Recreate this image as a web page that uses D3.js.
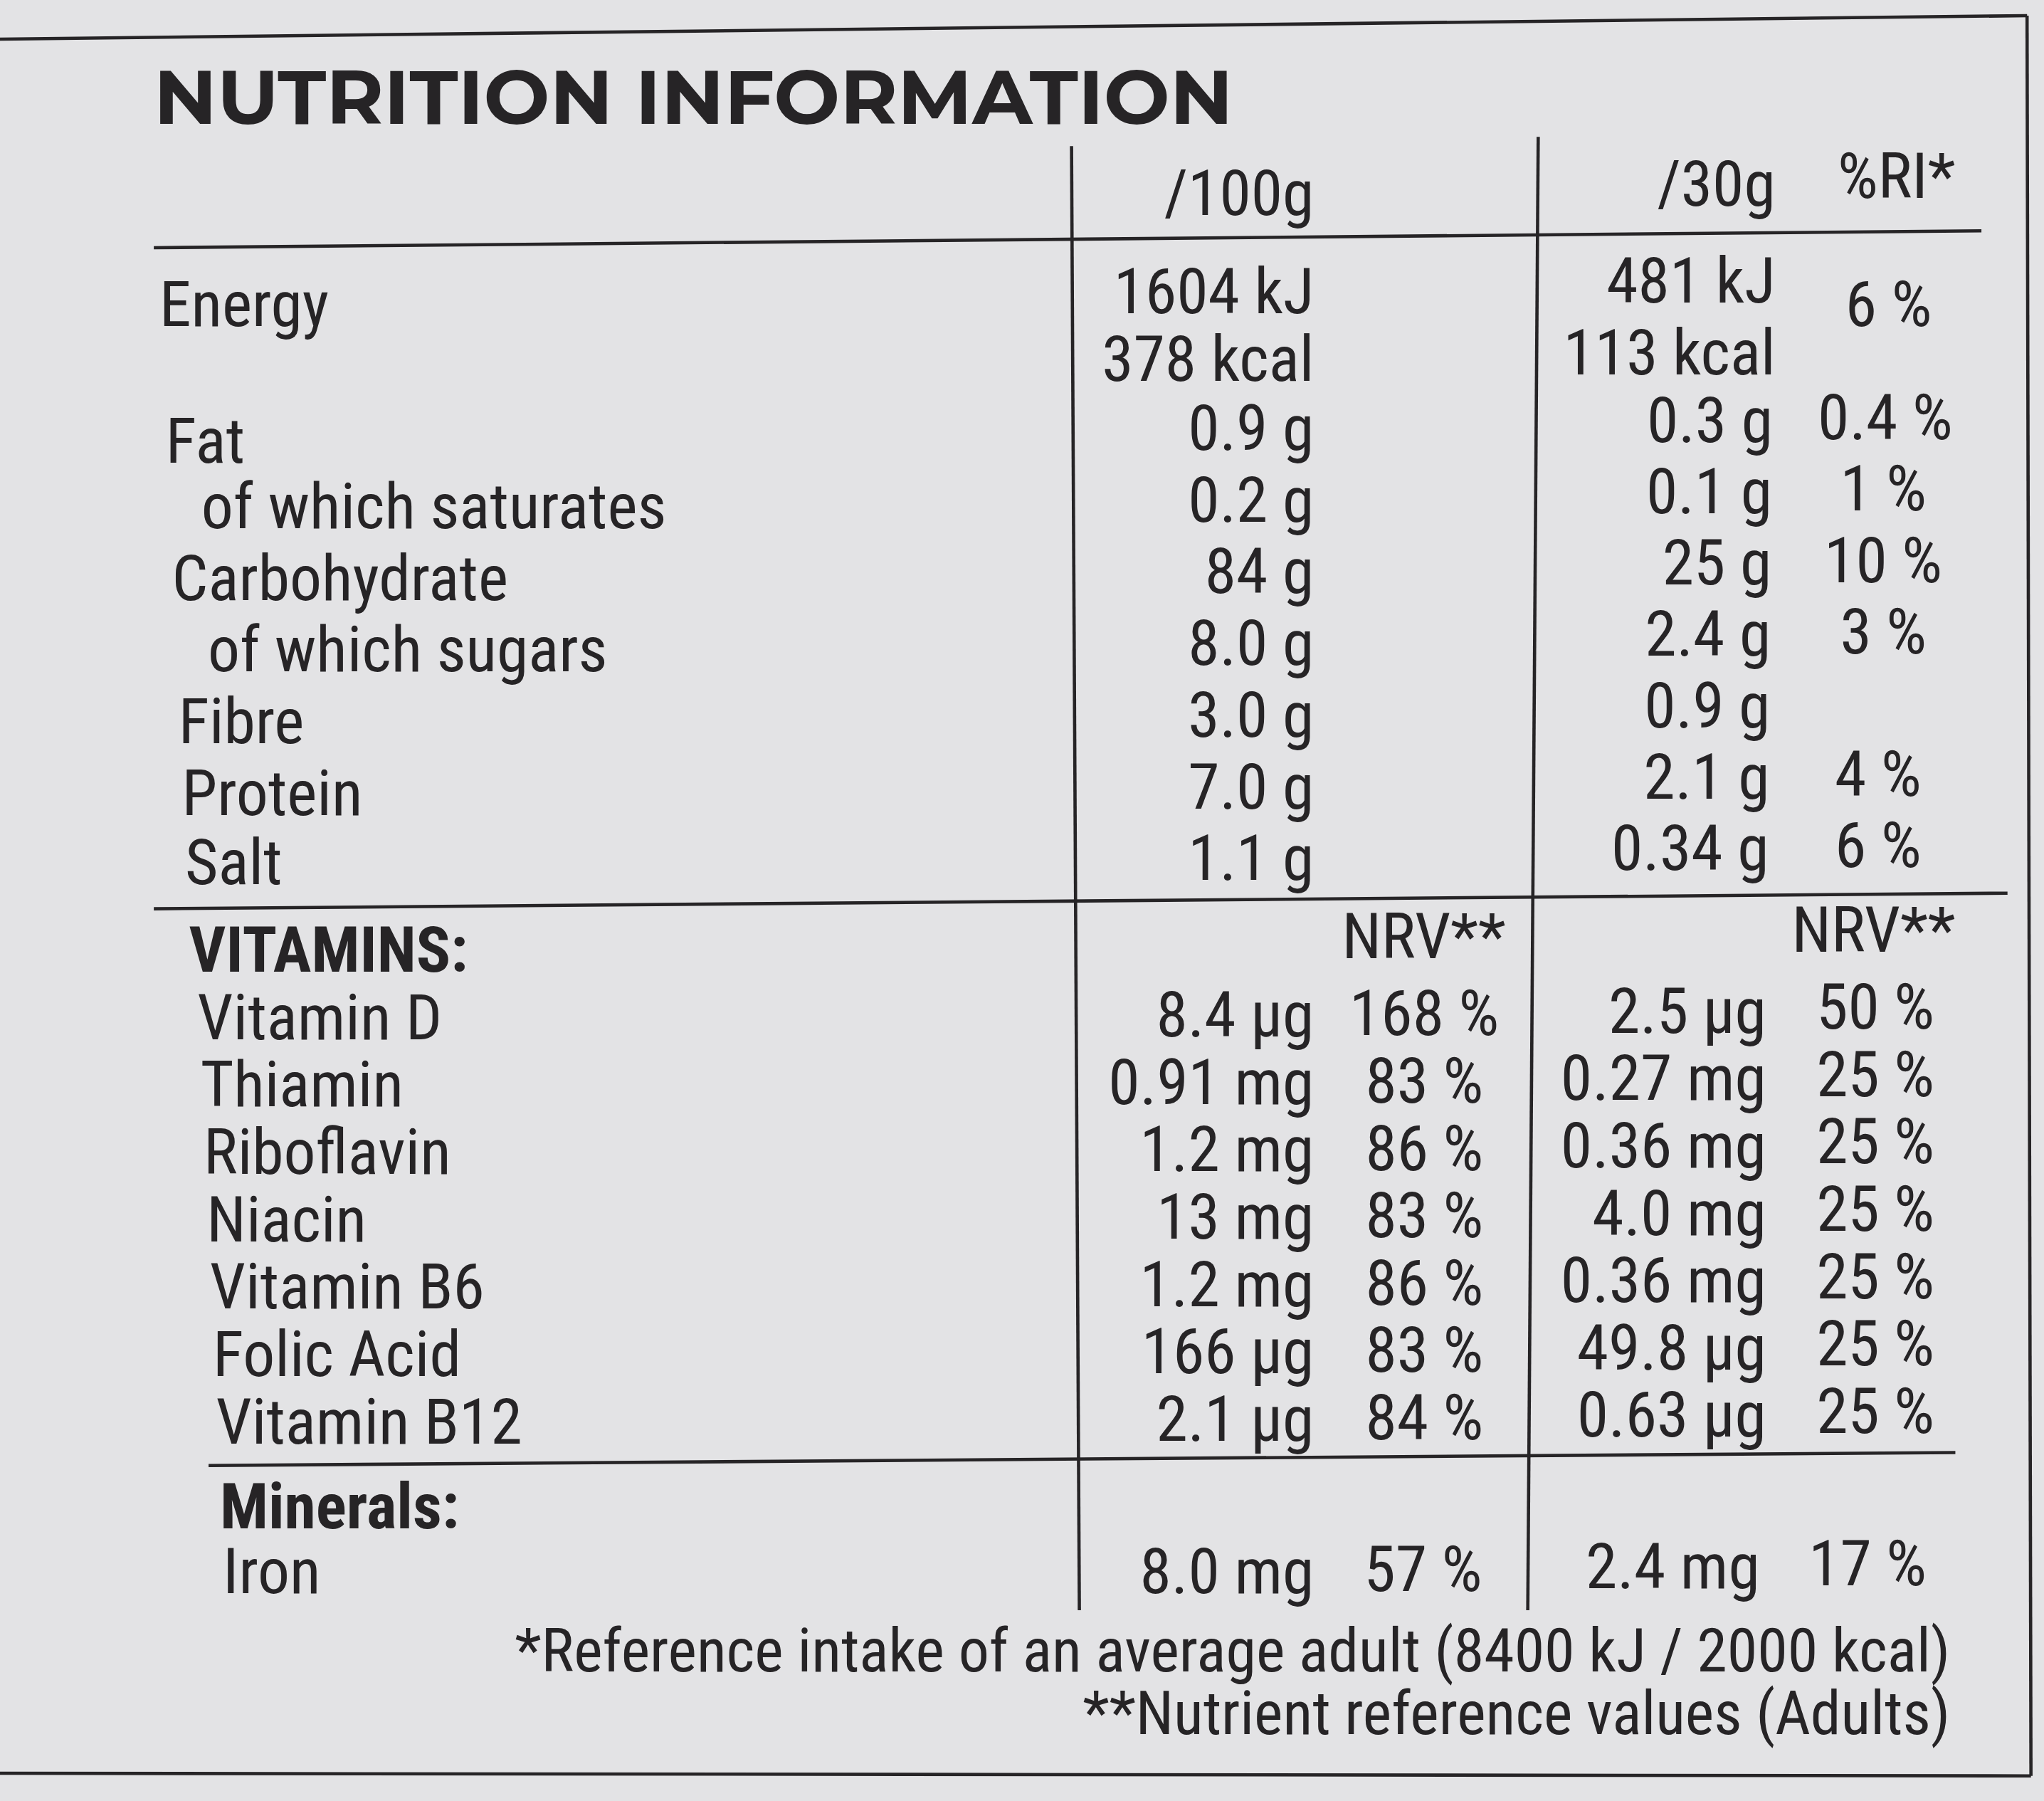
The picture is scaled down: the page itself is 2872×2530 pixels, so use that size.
<!DOCTYPE html>
<html><head><meta charset="utf-8">
<script src="https://cdn.jsdelivr.net/npm/d3@7"></script>
<style>body{margin:0;background:#e3e3e5}</style></head>
<body><svg id="c" width="2872" height="2530"></svg>
<script>
const title = "NUTRITION INFORMATION";
const headers = ["/100g", "/30g", "%RI*"];
const nutrients = ["Energy", "", "Fat", "of which saturates", "Carbohydrate", "of which sugars", "Fibre", "Protein", "Salt"];
const per100 = ["1604 kJ", "378 kcal", "0.9 g", "0.2 g", "84 g", "8.0 g", "3.0 g", "7.0 g", "1.1 g"];
const per30 = ["481 kJ", "113 kcal", "0.3 g", "0.1 g", "25 g", "2.4 g", "0.9 g", "2.1 g", "0.34 g"];
const ri = ["6 %", "", "0.4 %", "1 %", "10 %", "3 %", "", "4 %", "6 %"];
const vitamins = ["Vitamin D", "Thiamin", "Riboflavin", "Niacin", "Vitamin B6", "Folic Acid", "Vitamin B12"];
const vit100 = ["8.4 µg", "0.91 mg", "1.2 mg", "13 mg", "1.2 mg", "166 µg", "2.1 µg"];
const vitNrv100 = ["168 %", "83 %", "86 %", "83 %", "86 %", "83 %", "84 %"];
const vit30 = ["2.5 µg", "0.27 mg", "0.36 mg", "4.0 mg", "0.36 mg", "49.8 µg", "0.63 µg"];
const vitNrv30 = ["50 %", "25 %", "25 %", "25 %", "25 %", "25 %", "25 %"];
const minerals = ["Iron"];
const min100 = ["8.0 mg"], minNrv100 = ["57 %"], min30 = ["2.4 mg"], minNrv30 = ["17 %"];
const footnotes = ["*Reference intake of an average adult (8400 kJ / 2000 kcal)", "**Nutrient reference values (Adults)"];

const k = 2872/1568;
const svg = d3.select("#c");
const g = svg.append("g").attr("transform", `scale(${k})`);
const F = "'Liberation Sans Narrow','Roboto Condensed','Noto Sans',sans-serif";
const ink = "#262426";
const txt = (x, y, s, o = {}) => g.append("text").attr("x", x).attr("y", y).text(s)
  .attr("font-family", o.f || F).attr("font-size", o.fs || 49).attr("fill", ink)
  .attr("font-weight", o.w || "normal").attr("text-anchor", o.a || "start")
  .attr("textLength", o.tl || null).attr("lengthAdjust", o.tl ? "spacingAndGlyphs" : null);
const line = (x1, y1, x2, y2, w = 2.5) => g.append("line").attr("x1", x1).attr("y1", y1).attr("x2", x2).attr("y2", y2).attr("stroke", ink).attr("stroke-width", w);
const lx = y => 122 + (y - 245) * 0.046;

line(0, 30, 1555, 12, 2.5); line(1555, 12, 1558, 1362, 2.5); line(0, 1360, 1558, 1362, 2.5);
txt(118, 95, title, {f: "'Montserrat','Lato','Noto Sans',sans-serif", w: "bold", fs: 58, tl: 828});
line(822, 112, 828, 1235); line(1180, 105, 1172, 1235);
line(118, 190, 1520, 177); line(118, 697, 1540, 685); line(160, 1124, 1500, 1114);
txt(1008, 165, headers[0], {a: "end"}); txt(1362, 158, headers[1], {a: "end"}); txt(1500, 152, headers[2], {a: "end"});

const yN = d3.scaleLinear().domain([0, 8]).range([250, 678]);
const yE = [245, 0, 355, 405, 460, 515, 570, 625, 678];
nutrients.forEach((n, i) => {
  const y = i < 2 ? [250, 0][i] : yE[i];
  if (n) txt(lx(y) + (n.startsWith("of") ? 25 : 0), y, n);
});
per100.forEach((v, i) => txt(1008, i === 0 ? 240 : i === 1 ? 292 : yN(i) - 12 + (i - 2) * 1.5, v, {a: "end"}));
per30.forEach((v, i) => txt(i < 2 ? 1362 : 1360 - (i - 2) * 0.5, i === 0 ? 232 : i === 1 ? 287 : yN(i) - 18 + (i - 2) * 1.2, v, {a: "end"}));
const riX = [1482, 0, 1498, 1478, 1490, 1478, 0, 1474, 1474];
ri.forEach((v, i) => { if (v) txt(riX[i], i === 0 ? 250 : yN(i) - 20 + (i - 2) * 1.2, v, {a: "end"}); });

txt(lx(745), 745, "VITAMINS:", {w: "bold"});
txt(1155, 735, "NRV**", {a: "end"}); txt(1500, 730, "NRV**", {a: "end"});
const yV = d3.scaleLinear().domain([0, 6]).range([797, 1107]);
vitamins.forEach((v, i) => {
  const y = yV(i);
  txt(lx(y) + 4, y, v);
  txt(1008, y - 2, vit100[i], {a: "end"});
  txt(1150 - (i ? 12 : 0), y - 3, vitNrv100[i], {a: "end"});
  txt(1355, y - 5, vit30[i], {a: "end"});
  txt(1484, y - 8, vitNrv30[i], {a: "end"});
});
txt(lx(1172) + 4, 1172, "Minerals:", {w: "bold"});
minerals.forEach((m, i) => {
  const y = 1222;
  txt(lx(y) + 4, y, m);
  txt(1008, y, min100[i], {a: "end"}); txt(1137, y - 2, minNrv100[i], {a: "end"});
  txt(1350, y - 4, min30[i], {a: "end"}); txt(1478, y - 6, minNrv30[i], {a: "end"});
});
footnotes.forEach((f, i) => txt(1496, 1282 + i * 48, f, {a: "end", fs: 47}));
</script></body></html>
